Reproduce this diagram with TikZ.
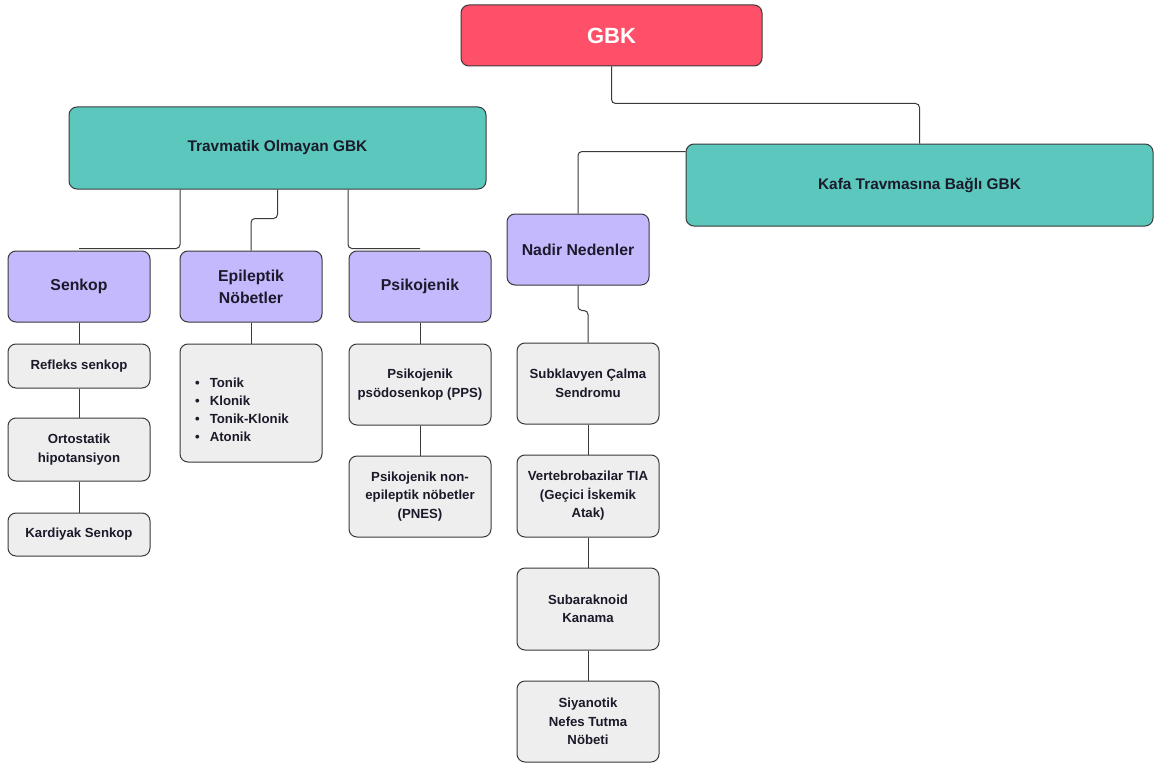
\documentclass[tikz,border=0pt]{standalone}
\usepackage{fontspec}
\setmainfont{Liberation Sans}
\definecolor{cred}{HTML}{FF5069}
\definecolor{cteal}{HTML}{5CC8BD}
\definecolor{clav}{HTML}{C5B9FE}
\definecolor{cgray}{HTML}{EEEEEE}
\definecolor{cline}{HTML}{3A3A3A}
\definecolor{ctext}{HTML}{1A1A2A}
\tikzset{
  basebox/.style={draw=cline, line width=1pt, rounded corners=8pt, inner sep=2pt, align=center, text=ctext, font=\bfseries},
  rootbox/.style={basebox, fill=cred, text=white, font=\fontsize{22}{25}\selectfont\bfseries, minimum width=301pt, minimum height=61pt},
  topbox/.style={basebox, fill=cteal, font=\fontsize{15.4}{20}\selectfont\bfseries, minimum height=82pt},
  midbox/.style={basebox, fill=clav, font=\fontsize{15.8}{22}\selectfont\bfseries, minimum width=142pt, minimum height=71pt},
  leafbox/.style={basebox, fill=cgray, font=\fontsize{13.2}{18.5}\selectfont\bfseries, minimum width=142pt},
  listtext/.style={inner sep=0pt, align=left, text=ctext, font=\fontsize{13.2}{18}\selectfont\bfseries},
  conn/.style={draw=cline, line width=1pt, rounded corners=4pt}
}
\begin{document}
\begin{tikzpicture}[x=1pt,y=-1pt]
\useasboundingbox[fill=white] (0,0) rectangle (1155,765);
% nodes
\node[rootbox] (gbk) at (611.5,35.5) {GBK};
\node[topbox, minimum width=417pt] (trav) at (277.5,148) {Travmatik Olmayan GBK};
\node[topbox, minimum width=467pt] (kafa) at (919.5,185) {Kafa Travmasına Bağlı GBK};
\node[midbox] (senkop) at (79,286.5) {Senkop};
\node[midbox] (epi) at (251,286.5) {Epileptik\\Nöbetler};
\node[midbox] (psi) at (420,286.5) {Psikojenik};
\node[midbox] (nadir) at (578,249.5) {Nadir Nedenler};
\node[leafbox, minimum height=44pt] (refleks) at (79,366) {Refleks senkop};
\node[leafbox, minimum height=63pt] (orto) at (79,449.5) {Ortostatik\\hipotansiyon};
\node[leafbox, minimum height=43pt] (kard) at (79,534.5) {Kardiyak Senkop};
\node[leafbox, minimum height=118pt] (liste) at (251,403) {};
\node[listtext, anchor=west] (listetxt) at (195,410)
  {\textbullet\hspace{10pt}Tonik\\\textbullet\hspace{10pt}Klonik\\\textbullet\hspace{10pt}Tonik-Klonik\\\textbullet\hspace{10pt}Atonik};
\node[leafbox, minimum height=81pt] (pps) at (420,384.5) {Psikojenik\\psödosenkop (PPS)};
\node[leafbox, minimum height=81pt] (pnes) at (420,496.5) {Psikojenik non-\\epileptik nöbetler\\(PNES)};
\node[leafbox, minimum height=81pt] (sub) at (588,383.5) {Subklavyen Çalma\\Sendromu};
\node[leafbox, minimum height=82pt] (vert) at (588,496) {Vertebrobazilar TIA\\(Geçici İskemik\\Atak)};
\node[leafbox, minimum height=82pt] (suba) at (588,609) {Subaraknoid\\Kanama};
\node[leafbox, minimum height=81pt] (siya) at (588,721.5) {Siyanotik\\Nefes Tutma\\Nöbeti};
% connectors
\draw[conn] (gbk.south) -- ++(0,37) -| (kafa.north);
\draw[conn] ([yshift=-8pt]kafa.north west) -| (nadir.north);
\draw[conn] ([xshift=-97.5pt]trav.south) |- ([yshift=2pt]senkop.north);
\draw[conn] (trav.south) -- ++(0,29) -| (epi.north);
\draw[conn] ([xshift=70.5pt]trav.south) |- ([yshift=2pt]psi.north);
\draw[conn] (nadir.south) -- ++(0,25) -| (sub.north);
\draw[conn] (senkop.south) -- (refleks.north);
\draw[conn] (refleks.south) -- (orto.north);
\draw[conn] (orto.south) -- (kard.north);
\draw[conn] (epi.south) -- (liste.north);
\draw[conn] (psi.south) -- (pps.north);
\draw[conn] (pps.south) -- (pnes.north);
\draw[conn] (sub.south) -- (vert.north);
\draw[conn] (vert.south) -- (suba.north);
\draw[conn] (suba.south) -- (siya.north);
\end{tikzpicture}
\end{document}
